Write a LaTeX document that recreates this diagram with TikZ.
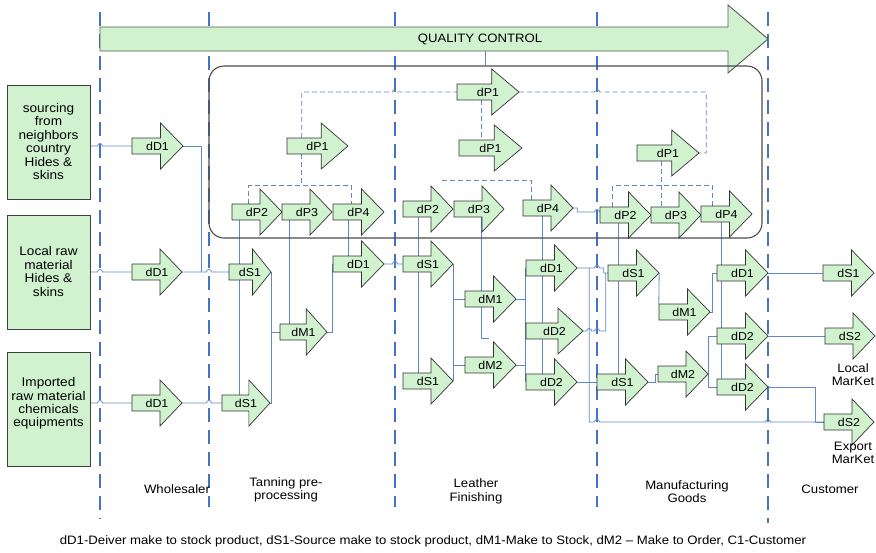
\documentclass[tikz,border=0pt]{standalone}
\usepackage{fontspec}
\setmainfont{Liberation Sans}[FakeStretch=1.08]
\usetikzlibrary{calc,backgrounds}

\definecolor{qgreen}{RGB}{208,242,206}
\definecolor{laneblue}{RGB}{68,114,196}
\definecolor{connblue}{RGB}{95,135,205}

% step arrow: name, left x, tip x, centre y, label
\newcommand\sarrow[5]{%
  \pgfmathsetmacro\sahb{#3-0.44*(#3-#2)}%
  \pgfmathsetmacro\samid{(#2+#3)/2}%
  \pgfmathsetmacro\salen{#3-#2}%
  \filldraw[stepfill] (#2,#4-8) -- (\sahb,#4-8) -- (\sahb,#4-23) -- (#3,#4)
    -- (\sahb,#4+23) -- (\sahb,#4+8) -- (#2,#4+8) -- cycle;
  \node[steptext, minimum width=\salen] (#1) at (\samid,#4) {#5};
}
% small jump where a left-to-right line crosses a vertical one
\newcommand\hopR[2]{-- ($(#1 |- #2)+(-2.5,0)$) arc[start angle=180,end angle=0,radius=2.5pt]}

\begin{document}
\begin{tikzpicture}[x=1pt,y=-1pt,
  stepfill/.style={fill=qgreen, draw=black!80, line width=0.7pt},
  steptext/.style={inner sep=0pt, minimum height=16, font=\fontsize{11.5}{13.4}\selectfont},
  lbl/.style={inner sep=0pt, font=\fontsize{12.2}{13.4}\selectfont},
  boxtext/.style={inner sep=0pt, align=center, font=\fontsize{12.6}{13.4}\selectfont},
  conn/.style={draw=connblue, line width=0.8pt},
  dconn/.style={draw=connblue, line width=0.8pt, dash pattern=on 5pt off 3pt},
  lane/.style={draw=laneblue, line width=1.6pt, dash pattern=on 14pt off 8pt},
  srcbox/.style={fill=qgreen, draw=black!75, line width=0.8pt, minimum width=83, minimum height=114, inner sep=0pt},
  frame/.style={draw=black!70, line width=1.1pt, rounded corners=15pt, minimum width=553, minimum height=172, inner sep=0pt},
  qcarrow/.style={fill=qgreen, draw=black!65, line width=0.9pt}]
\useasboundingbox (0,0) rectangle (876,552);

% lane separators
\coordinate (lane1) at (100,12);
\coordinate (lane2) at (209,12);
\coordinate (lane3) at (395,12);
\coordinate (lane4) at (597,12);
\coordinate (lane5) at (768,12);

% quality control band
\filldraw[qcarrow] (100,27) -- (728,27) -- (728,5) -- (768,39) -- (728,73) -- (728,51) -- (100,51) -- cycle;
\node[lbl] (qc) at (480,39) {QUALITY CONTROL};
\node[frame] (qcbox) at (485.5,152) {};

% sources
\node[srcbox] (src1) at (48.5,142.5) {};
\node[boxtext] (src1t) at (48.5,141.5) {sourcing\\from\\neighbors\\country\\Hides \&\\skins};
\node[srcbox] (src2) at (48.5,272) {};
\node[boxtext] (src2t) at (48.5,271.5) {Local raw\\material\\Hides \&\\skins};
\node[srcbox] (src3) at (48.5,409) {};
\node[boxtext] (src3t) at (48.5,403.5) {Imported\\raw material\\chemicals\\equipments};

% wholesaler
\sarrow{wDa}{132}{183}{146}{dD1}
\sarrow{wDb}{132}{182}{272}{dD1}
\sarrow{wDc}{132}{182}{403}{dD1}
% tanning
\sarrow{tPa}{287}{348}{146}{dP1}
\sarrow{tPb}{232}{282}{212}{dP2}
\sarrow{tPc}{282}{332}{212}{dP3}
\sarrow{tPd}{333}{384}{212}{dP4}
\sarrow{tSa}{229}{271}{272}{dS1}
\sarrow{tSb}{222}{270}{403}{dS1}
\sarrow{tMa}{280}{327}{332}{dM1}
\sarrow{tDa}{333}{384}{264}{dD1}
% leather finishing
\sarrow{lPa}{457}{519}{92}{dP1}
\sarrow{lPo}{459}{522}{148}{dP1}
\sarrow{lPb}{403}{453}{209}{dP2}
\sarrow{lPc}{454}{504}{209}{dP3}
\sarrow{lPd}{523}{573}{208}{dP4}
\sarrow{lSa}{403}{453}{264}{dS1}
\sarrow{lSb}{403}{453}{381}{dS1}
\sarrow{lMa}{465}{516}{299}{dM1}
\sarrow{lMb}{465}{516}{365}{dM2}
\sarrow{lDa}{526}{577}{268}{dD1}
\sarrow{lDb}{526}{583}{331}{dD2}
\sarrow{lDc}{526}{577}{382}{dD2}
% manufacturing
\sarrow{mPa}{637}{699}{153}{dP1}
\sarrow{mPb}{600}{651}{215}{dP2}
\sarrow{mPc}{651}{701}{215}{dP3}
\sarrow{mPd}{701}{752}{214}{dP4}
\sarrow{mSa}{608}{659}{273}{dS1}
\sarrow{mSb}{597}{648}{382}{dS1}
\sarrow{mMa}{659}{710}{312}{dM1}
\sarrow{mMb}{658}{708}{374}{dM2}
\sarrow{mDa}{717}{768}{273}{dD1}
\sarrow{mDb}{717}{768}{336}{dD2}
\sarrow{mDc}{717}{768}{387}{dD2}
% customer
\sarrow{cSa}{823}{874}{273}{dS1}
\sarrow{cSb}{825}{875}{336}{dS2}
\sarrow{cSc}{824}{874}{422}{dS2}

\begin{scope}[on background layer]
  \draw[lane] (lane1) -- ++(0,507);
  \draw[lane] (lane2) -- ++(0,495);
  \draw[lane] (lane3) -- ++(0,495);
  \draw[lane] (lane4) -- ++(0,495);
  \draw[lane] (lane5) -- ++(0,511);

  % material flow
  \draw[conn] (src1.east |- wDa.west) \hopR{lane1}{wDa.west} -- (wDa.west);
  \draw[conn] (src2.east |- wDb.west) \hopR{lane1}{wDb.west} -- (wDb.west);
  \draw[conn] (src3.east |- wDc.west) \hopR{lane1}{wDc.west} -- (wDc.west);
  \draw[conn] (wDa.east) -| ($(wDb.east)+(19,0)$);
  \draw[conn] (wDb.east) \hopR{lane2}{wDb.east} -- (tSa.west);
  \draw[conn] (wDc.east) \hopR{lane2}{wDc.east} -- (tSb.west);
  \draw[conn] (tSa.east) |- (tSb.east);
  \draw[conn] (tSa.east |- tMa.west) -- (tMa.west);
  \draw[conn] ([xshift=8]tPb.south west) -- ([xshift=18]tSb.north west);
  \draw[conn] ([xshift=8]tPc.south west) -- ([xshift=10]tMa.north west);
  \draw[conn] ([xshift=16]tPd.south west) -- ([xshift=16]tDa.north west);
  \draw[conn] (tMa.east) -| (tDa.west);
  \draw[conn] (tDa.east) \hopR{lane3}{tDa.east} -- (lSa.west);

  \draw[conn] (lSa.east) |- (lSb.east);
  \draw[conn] (lSa.east |- lMa.west) -- (lMa.west);
  \draw[conn] (lSa.east |- lMb.west) -- (lMb.west);
  \draw[conn] (lMa.east) -- (lDa.west |- lMa.east);
  \draw[conn] (lMb.east) -- (lDa.west |- lMb.east);
  \draw[conn] (lDa.west) -- (lDc.west);
  \draw[conn] ([xshift=16]lPb.south west) -- ([xshift=16]lSb.north west);
  \draw[conn] ([xshift=28]lPc.south west) -- ([xshift=17]lMa.south west) -- ++(0,31) -- ++(7,0);
  \draw[conn] ([xshift=20]lPd.south west) -- ([xshift=17]lDc.north west);
  \coordinate (j1) at ($(lDa.east)+(12,0)$);
  \draw[conn] (lDa.east) \hopR{lane4}{lDa.east} -| ($(mSa.west)+(-4,0)$) -- (mSa.west);
  \draw[conn] (j1) -- (j1 |- cSc.west) \hopR{lane4}{cSc.west} \hopR{lane5}{cSc.west} -- (cSc.west);
  \draw[conn] (lDb.east) \hopR{j1}{lDb.east} \hopR{lane4}{lDb.east} -| ($(mSa.west)+(-2,0)$);
  \draw[conn] (lDc.east) -- (mSb.west);
  \coordinate (j2) at ($(mPb.west)+(0,-3)$);
  \draw[conn] (lPd.east) -- ++(4,0) |- ($(j2)+(-10,0)$) \hopR{lane4}{j2} -- (j2);

  \draw[conn] ([xshift=19]mPb.south west) -- ([xshift=22]mSb.north west);
  \draw[conn] ([xshift=21]mPd.south west) -- ([xshift=5]mDc.north west);
  \draw[conn] (mSa.east) -- (mMa.north west);
  \draw[conn] (mMa.east) -- ++(2,0) |- (mDa.west);
  \draw[conn] (mSb.east) -- ++(7,0) |- (mMb.west);
  \draw[conn] (mMb.east) |- (mDb.west);
  \draw[conn] (mMb.east) |- (mDc.west);
  \draw[conn] (mDa.east) -- (cSa.west);
  \draw[conn] (mDb.east) -- (cSb.west);
  \draw[conn] (mDc.east) -- ++(47,0) |- (cSc.west);

  \draw[conn] (qcbox.north) -- ++(0,-15);

  % planning links
  \coordinate (d1) at ($(tPa.north west)+(15,0)$);
  \draw[dconn] (d1) -- (d1 |- lPa.west) \hopR{lane3}{lPa.west} -- (lPa.west);
  \draw[dconn] ([xshift=15]tPa.south west) -- ++(0,32);
  \draw[dconn] ([xshift=17]tPb.north west) -- ++(0,-18) -| ([xshift=19]tPd.north west);
  \coordinate (d3) at ($(mPa.east)+(7,0)$);
  \draw[dconn] (lPa.east) \hopR{lane4}{lPa.east} -- (d3 |- lPa.east) -- (d3) -- (mPa.east);
  \draw[dconn] ([xshift=25]lPa.south west) -- ([xshift=23]lPo.north west);
  \coordinate (d5) at ($(lPb.north west)+(39,-20)$);
  \draw[dconn] (d5) -| ([xshift=9]lPd.north west);
  \draw[dconn] ([xshift=13]mPb.north west) -- ++(0,-21) -| ([xshift=12]mPd.north west);
  \draw[dconn] ([xshift=25]mPa.south west) -- ([xshift=11]mPc.north west);
\end{scope}

% lane titles and notes
\node[lbl] (wl) at (177,489) {Wholesaler};
\node[lbl, align=center] (tl) at (286,490) {Tanning pre-\\processing};
\node[lbl, align=center] (ll) at (476,491.5) {Leather\\Finishing};
\node[lbl, align=center] (ml) at (687,491.5) {Manufacturing\\Goods};
\node[lbl] (cl) at (830,489) {Customer};
\node[lbl, align=center] (lm) at (853,374.5) {Local\\MarKet};
\node[lbl, align=center] (em) at (853,453) {Export\\MarKet};
\node[lbl] (foot) at (433,541) {dD1-Deiver make to stock product, dS1-Source make to stock product, dM1-Make to Stock, dM2 – Make to Order, C1-Customer};
\end{tikzpicture}
\end{document}
